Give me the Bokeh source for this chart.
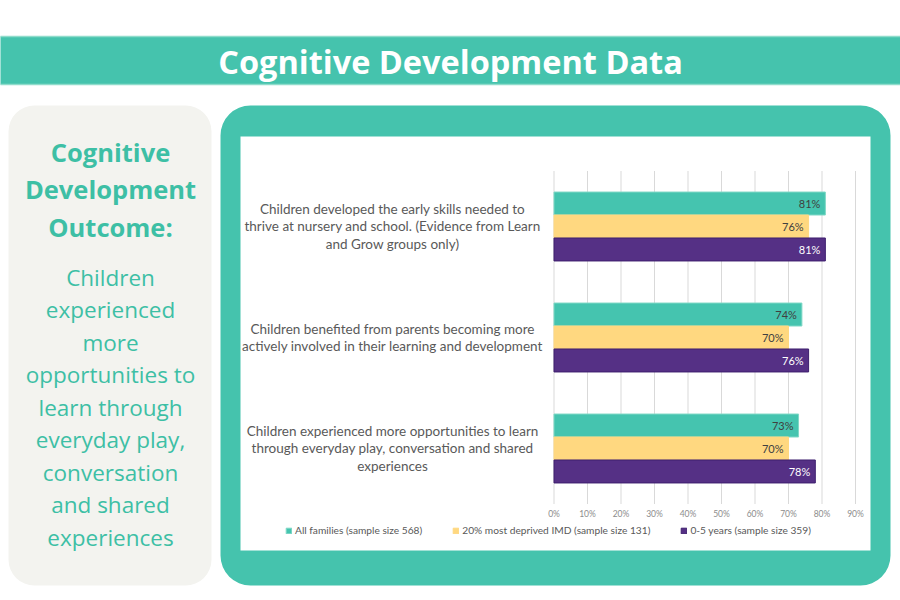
from bokeh.plotting import figure
from bokeh.models import (Range1d, BoxAnnotation, Label, ColumnDataSource, Legend, LegendItem)
from bokeh.core.properties import value
from bokeh.embed import file_html
from bokeh.resources import INLINE

# ---------------- data ----------------
categories = [
    "Children developed the early skills needed to\nthrive at nursery and school. (Evidence from Learn\nand Grow groups only)",
    "Children benefited from parents becoming more\nactively involved in their learning and development",
    "Children experienced more opportunities to learn\nthrough everyday play, conversation and shared\nexperiences",
]
series_names = [
    "All families (sample size 568)",
    "20% most deprived IMD (sample size 131)",
    "0-5 years (sample size 359)",
]
all_families = [81, 74, 73]
most_deprived = [76, 70, 70]
years_0_5 = [81, 76, 78]
x_ticks = [0, 10, 20, 30, 40, 50, 60, 70, 80, 90]
x_tick_labels = ["0%", "10%", "20%", "30%", "40%", "50%", "60%", "70%", "80%", "90%"]

title_text = "Cognitive Development Data"
panel_heading = ["Cognitive", "Development", "Outcome:"]
panel_body = ["Children", "experienced", "more", "opportunities to", "learn through",
              "everyday play,", "conversation", "and shared", "experiences"]

# ---------------- styles / layout ----------------
TEAL = "#45C3AD"
TEAL_BAR = "#45C4AF"
YELLOW = "#FFD880"
PURPLE = "#553085"
PANEL_BG = "#F3F3EF"
TEXT_TEAL = "#3DBFA5"
GREY = "#595959"

W, H = 900, 600
# chart plot area in canvas pixels
X0PX, X90PX = 553.5, 855.0          # where 0% and 90% sit
CAT0PX, CATSTEP = 226.0, 111.0       # centre of first category, spacing
KX = (X90PX - X0PX) / 90.0

p = figure(width=W, height=H, output_backend="svg", toolbar_location=None,
           x_range=Range1d(0, W), y_range=Range1d(H, 0),
           min_border=0, x_axis_location=None, y_axis_location=None,
           outline_line_color=None, background_fill_color="white",
           border_fill_color="white")
p.xgrid.visible = False
p.ygrid.visible = False

p.extra_x_ranges = {"pct": Range1d(start=-X0PX / KX, end=(W - X0PX) / KX)}
p.extra_y_ranges = {"cat": Range1d(start=(H - CAT0PX) / CATSTEP, end=-CAT0PX / CATSTEP)}


def box(x0, y0, x1, y1, color, radius=0, line=None, lw=1):
    p.add_layout(BoxAnnotation(left=x0, right=x1, top=y0, bottom=y1,
                               fill_color=color, fill_alpha=1.0,
                               line_color=line, line_alpha=1.0 if line else 0,
                               line_width=lw, border_radius=radius,
                               level="image", editable=False))


# decorations
box(-5, 36, 905, 84, TEAL, line="#8FDCCB", lw=1.5)
box(8, 105, 211, 585, PANEL_BG, radius=26)
box(220, 105, 890, 585, TEAL, radius=30)
box(240, 136, 870, 550, "white")

# title
p.add_layout(Label(x=450, y=61, text=title_text, text_align="center", text_baseline="middle",
                   text_font="Open Sans", text_font_style="bold",
                   text_font_size="32.5px", text_color="white"))

# left panel text
for i, line in enumerate(panel_heading):
    p.add_layout(Label(x=110, y=151 + 37.5 * i, text=line, text_align="center",
                       text_baseline="middle", text_font="Open Sans", text_font_style="bold",
                       text_font_size="25.5px", text_color=TEXT_TEAL))
for i, line in enumerate(panel_body):
    p.add_layout(Label(x=110, y=276.5 + 32.5 * i, text=line, text_align="center",
                       text_baseline="middle", text_font="Open Sans",
                       text_font_size="22.5px", text_color=TEXT_TEAL))

# ---------------- chart ----------------
pos = list(range(len(categories)))
label_x = [392] * len(categories)
src = ColumnDataSource(dict(cat=categories, pos=pos, lx=label_x))

# gridlines (category band from -0.5 to last + 0.5)
p.segment(x0=x_ticks, x1=x_ticks, y0=[-0.5] * len(x_ticks), y1=[len(categories) - 0.5] * len(x_ticks),
          x_range_name="pct", y_range_name="cat", line_color="#D9D9D9", line_width=1)
# tick labels
p.text(x=x_ticks, y=[len(categories) - 0.5] * len(x_ticks), text=x_tick_labels,
       x_range_name="pct", y_range_name="cat", y_offset=10,
       text_align="center", text_baseline="middle", text_font=value("Lato"),
       text_font_size="8.5px", text_color="#8C8C8C")

BH = 0.207
specs = [(all_families, -BH, TEAL_BAR, "#7FD8C6", "#404040"),
         (most_deprived, 0.0, YELLOW, YELLOW, "#404040"),
         (years_0_5, BH, PURPLE, "#3E1F6E", "white")]
renderers = []
for vals, off, fc, lc, tc in specs:
    ys = [q + off for q in pos]
    r = p.hbar(y=ys, left=0, right=vals, height=BH,
               x_range_name="pct", y_range_name="cat",
               fill_color=fc, line_color=lc, line_width=1)
    renderers.append(r)
    p.text(x=vals, y=ys, text=[f"{v}%" for v in vals],
           x_range_name="pct", y_range_name="cat", x_offset=-5,
           text_align="right", text_baseline="middle", text_font=value("Lato"),
           text_font_size="11px", text_color=tc)

# category labels
p.text(x="lx", y="pos", text="cat", source=src, y_range_name="cat",
       text_align="center", text_baseline="middle", text_font=value("Lato"),
       text_font_size="13.5px", text_line_height=1.12, text_color=GREY)

legend = Legend(items=[LegendItem(label=n, renderers=[r]) for n, r in zip(series_names, renderers)],
                orientation="horizontal", location=(285, H - 536),
                glyph_width=7, glyph_height=7, label_standoff=3, spacing=30,
                padding=0, margin=0, border_line_color=None, background_fill_alpha=0,
                label_text_font="Lato", label_text_font_size="10.2px",
                label_text_color=GREY, label_height=12)
p.add_layout(legend, "center")

open("out.html", "w").write(file_html(p, INLINE))
